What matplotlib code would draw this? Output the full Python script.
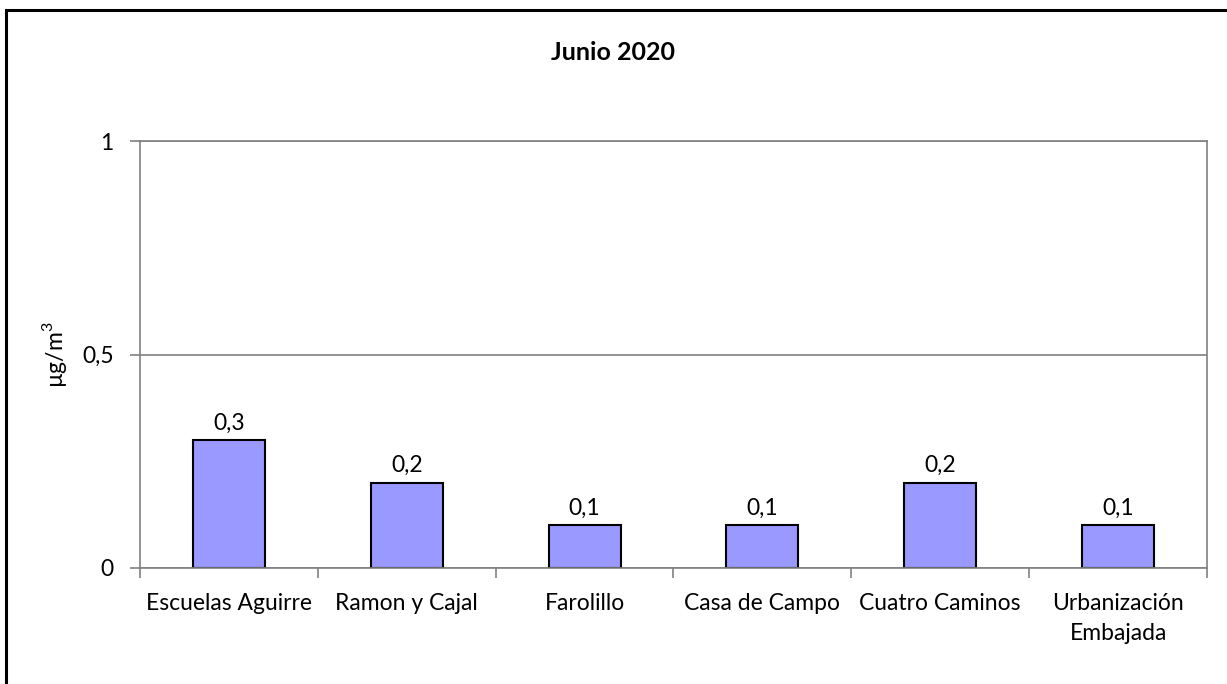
import matplotlib
matplotlib.use("Agg")
import matplotlib.pyplot as plt
from matplotlib.patches import Rectangle
from matplotlib.ticker import FixedLocator, NullFormatter

categories = ["Escuelas Aguirre", "Ramon y Cajal", "Farolillo", "Casa de Campo",
              "Cuatro Caminos", "Urbanización\nEmbajada"]
values = [0.3, 0.2, 0.1, 0.1, 0.2, 0.1]
value_labels = ["0,3", "0,2", "0,1", "0,1", "0,2", "0,1"]
yticks = [0, 0.5, 1]
ytick_labels = ["0", "0,5", "1"]
title = "Junio 2020"
ylabel = "µg/m$^3$"

plt.rcParams['font.family'] = ['Lato', 'DejaVu Sans']
plt.rcParams['mathtext.fontset'] = 'custom'
plt.rcParams['mathtext.rm'] = 'Lato'
fs = 16.5

fig = plt.figure(figsize=(12.27, 6.84), dpi=100)
ax = fig.add_axes([140/1227, 1-568/684, (1207-140)/1227, (568-141)/684])

x = list(range(len(categories)))
bars = ax.bar(x, values, width=0.405, color="#9999FF", edgecolor="black", linewidth=1.5, zorder=3)
for xi, v, lab in zip(x, values, value_labels):
    ax.text(xi, v + 0.015, lab, ha="center", va="bottom", fontsize=fs)

ax.set_xlim(-0.5, len(categories) - 0.5)
ax.set_ylim(0, 1)
ax.set_yticks(yticks)
ax.set_yticklabels(ytick_labels, fontsize=fs)
ax.set_xticks(x)
ax.set_xticklabels(categories, fontsize=fs, linespacing=1.5)
ax.xaxis.set_minor_locator(FixedLocator([i - 0.5 for i in range(len(categories) + 1)]))
ax.xaxis.set_minor_formatter(NullFormatter())
ax.tick_params(axis="x", which="major", length=0, pad=18)
ax.tick_params(axis="x", which="minor", length=7, color="#808080", width=1.2)
ax.tick_params(axis="y", length=7, color="#808080", width=1.2, pad=12)

ax.yaxis.grid(True, color="#808080", linewidth=1.2, zorder=0)
for s in ["top", "right", "left", "bottom"]:
    ax.spines[s].set_color("#808080")
    ax.spines[s].set_linewidth(1.2)
ax.spines["bottom"].set_zorder(4)

ax.set_ylabel(ylabel, fontsize=fs, labelpad=9)
fig.text(613/1227, 1 - 52/684, title, ha="center", va="center",
         fontsize=18, fontweight="bold")

fig.patches.append(Rectangle((6/1227, -0.05), 1.2, 1 - 10/684 + 0.05, transform=fig.transFigure,
                             fill=False, edgecolor="black", linewidth=2.2, zorder=10))

fig.savefig("out.png", dpi=100)
